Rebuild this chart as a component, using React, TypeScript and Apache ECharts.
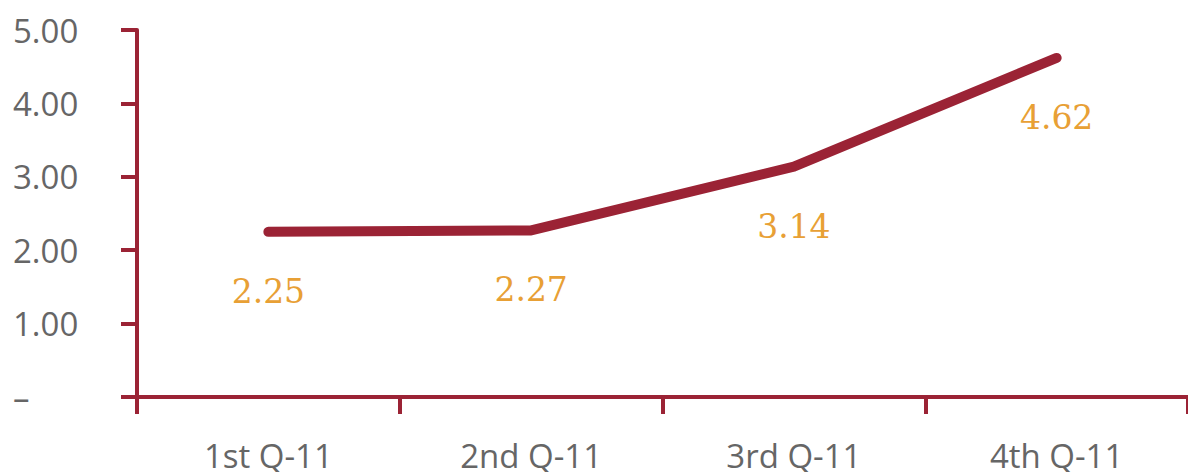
import React, { useEffect, useRef } from "react";
import * as echarts from "echarts";

const categories = ["1st Q-11", "2nd Q-11", "3rd Q-11", "4th Q-11"];
const values = [2.25, 2.27, 3.14, 4.62];
const yTicks = [0, 1, 2, 3, 4, 5];

const RED = "#9B2335";
const ORANGE = "#E8A035";
const GREY = "#666666";

export default function App() {
  const ref = useRef<HTMLDivElement>(null);
  useEffect(() => {
    const chart = echarts.init(ref.current!, undefined, { renderer: "svg" });
    chart.setOption({
      animation: false,
      grid: { left: 137, right: 0, top: 30, bottom: 74 },
      xAxis: {
        type: "category",
        data: categories,
        boundaryGap: true,
        axisLine: { lineStyle: { color: RED, width: 4 } },
        axisTick: { show: true, length: 17, lineStyle: { color: RED, width: 4 } },
        axisLabel: {
          color: GREY,
          fontFamily: "Open Sans",
          fontSize: 33,
          margin: 42,
        },
      },
      yAxis: {
        type: "value",
        min: yTicks[0],
        max: yTicks[yTicks.length - 1],
        interval: 1,
        splitLine: { show: false },
        axisLine: { show: true, lineStyle: { color: RED, width: 4 } },
        axisTick: { show: true, length: 16, lineStyle: { color: RED, width: 4 } },
        axisLabel: {
          color: GREY,
          fontFamily: "Open Sans",
          fontSize: 33,
          align: "left",
          margin: 124,
          formatter: (v: number) => (v === 0 ? "–" : v.toFixed(2)),
        },
      },
      series: [
        {
          type: "line",
          data: values,
          symbol: "circle",
          symbolSize: 6,
          itemStyle: { color: RED },
          lineStyle: { color: RED, width: 10, cap: "round", join: "round" },
          label: {
            show: true,
            position: "bottom",
            distance: 40,
            color: ORANGE,
            fontFamily: "DejaVu Serif",
            fontSize: 33,
            formatter: (p: any) => p.value.toFixed(2),
          },
        },
      ],
    });
    return () => chart.dispose();
  }, []);
  return <div ref={ref} style={{ width: 1188, height: 472, position: "absolute", left: 0, top: 0 }} />;
}
